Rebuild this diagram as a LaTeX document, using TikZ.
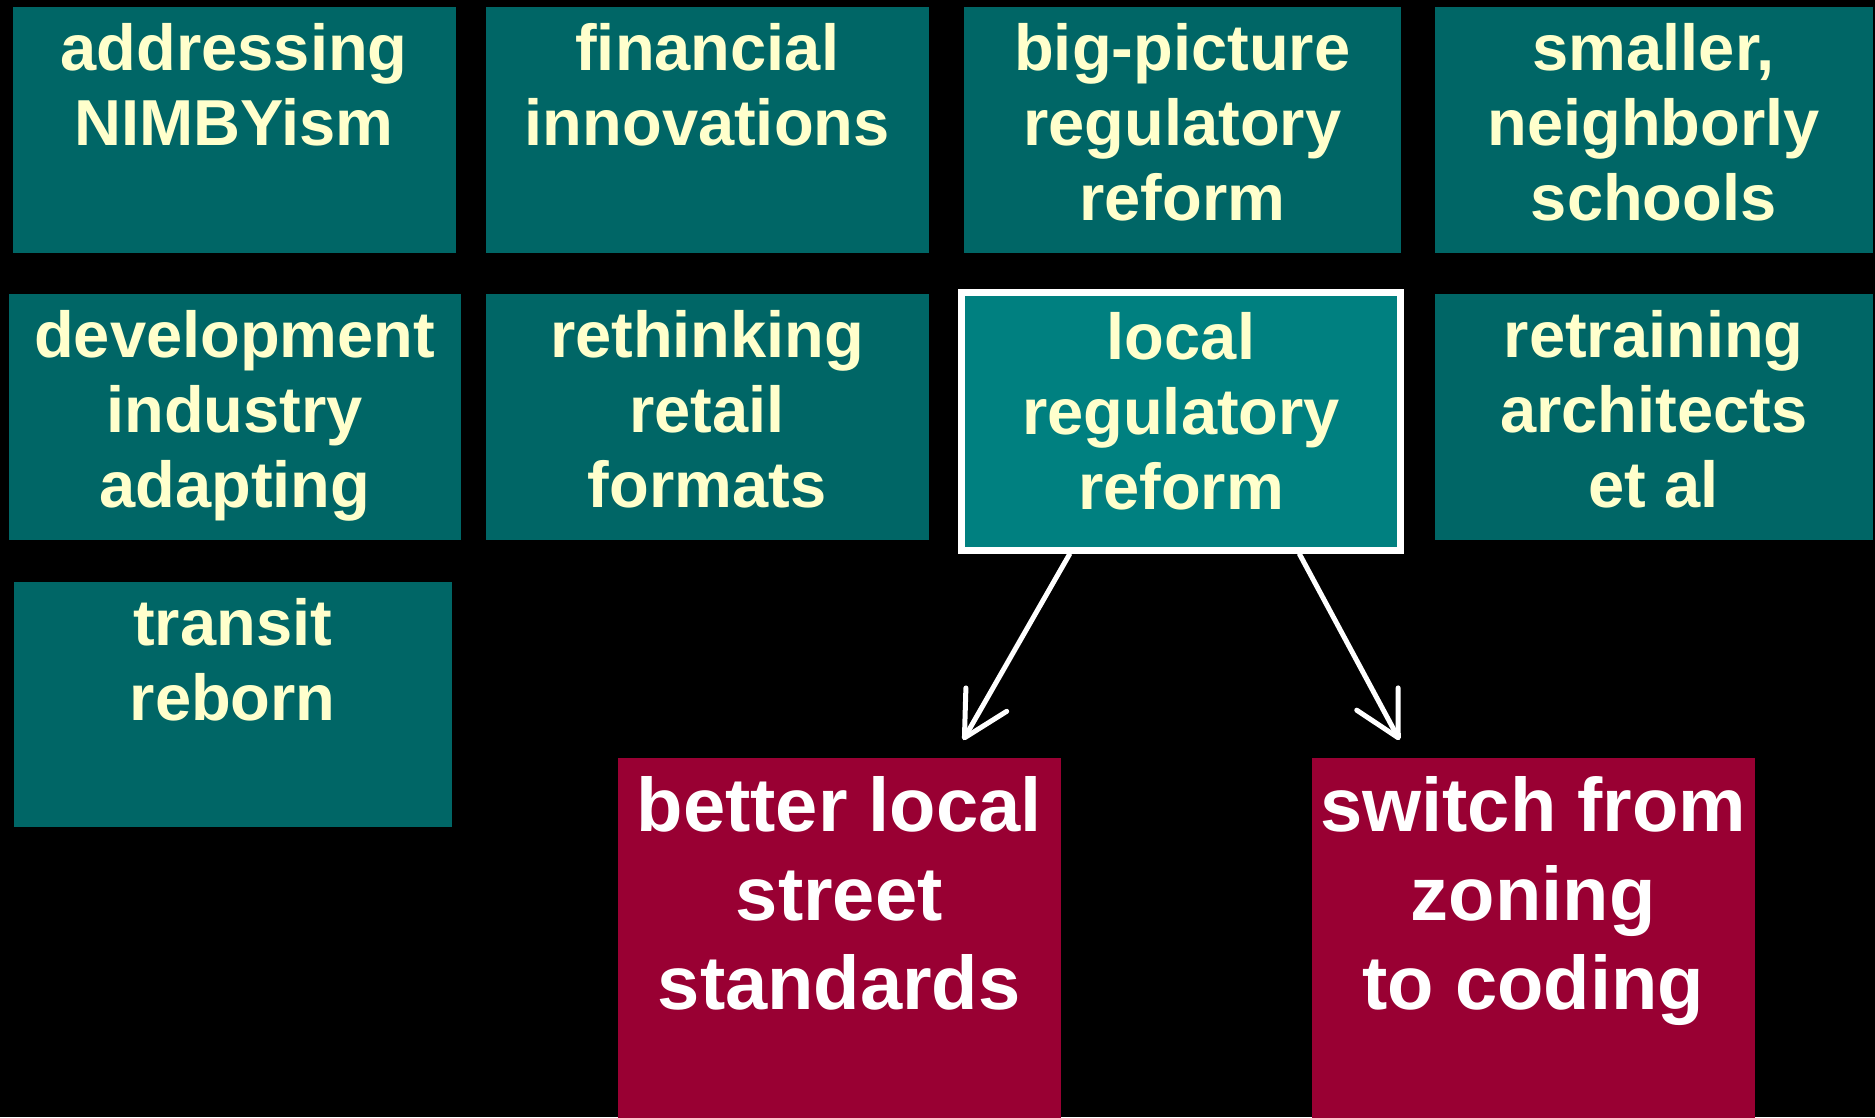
\documentclass[tikz,border=0pt]{standalone}
\usepackage{fontspec}
\setmainfont{Liberation Sans}
\usepackage{tikz}
\usetikzlibrary{arrows.meta,calc}
\definecolor{tealdark}{RGB}{0,102,102}
\definecolor{teallight}{RGB}{0,128,128}
\definecolor{wine}{RGB}{153,0,51}
\definecolor{cream}{RGB}{255,255,204}
% every box holds three lines; the base is the last one
\tikzset{
  topic/.style={rectangle, fill=tealdark, text=cream, inner sep=0pt,
                minimum width=#1, text height=2.14cm, text depth=0.32cm,
                font=\fontsize{18.5}{21.3}\selectfont\bfseries, align=center},
  topic/.default=4.43cm,
  focus/.style={topic=#1, fill=teallight, draw=white, line width=0.07cm,
                text height=2.17cm, text depth=0.405cm},
  outcome/.style={rectangle, fill=wine, text=white, inner sep=0pt,
                  minimum width=4.43cm, text height=2.52cm, text depth=1.08cm,
                  font=\fontsize{21.6}{25.3}\selectfont\bfseries, align=center},
  arr/.style={-{Straight Barb[length=4.4mm, width=4.7mm, round]}, line width=0.05cm, white},
}

\begin{document}
\begin{tikzpicture}
        % Background
        \fill[black] (0,0) rectangle (18.75,-11.17);

        % First row
        \node[topic, anchor=north west] (nimby) at (0.12,-0.06) {addressing\\NIMBYism\\\mbox{}};
        \node[topic, anchor=north west] (finance) at (4.85,-0.06) {financial\\innovations\\\mbox{}};
        \node[topic=4.37cm, anchor=north west] (bigreg) at (9.63,-0.06) {big-picture\\regulatory\\reform};
        \node[topic=4.38cm, anchor=north west] (schools) at (14.34,-0.06) {smaller,\\neighborly\\schools};

        % Second row
        \node[topic=4.52cm, anchor=north west] (industry) at (0.08,-2.93) {development\\industry\\adapting};
        \node[topic, anchor=north west] (retail) at (4.85,-2.93) {rethinking\\retail\\formats};
        \node[focus=4.39cm, anchor=north west] (localreg) at (9.58,-2.89) {local\\regulatory\\reform};
        \node[topic=4.38cm, anchor=north west] (architects) at (14.34,-2.93) {retraining\\architects\\et al};

        % Third row
        \node[topic=4.38cm, text depth=0.31cm, anchor=north west] (transit) at (0.13,-5.81) {transit\\reborn\\\mbox{}};

        % Outcomes
        \node[outcome, anchor=north west] (streets) at (6.17,-7.57) {better local\\street\\standards};
        \node[outcome, anchor=north west] (coding) at (13.11,-7.57) {switch from\\zoning\\to coding};

        % Links
        \draw[arr] ($(localreg.south west)!0.251!(localreg.south east)$)
              -- ($(streets.north west)!0.779!(streets.north east)+(0,0.17)$);
        \draw[arr] ($(localreg.south west)!0.765!(localreg.south east)$)
              -- ($(coding.north west)!0.199!(coding.north east)+(0,0.17)$);
\end{tikzpicture}
\end{document}
